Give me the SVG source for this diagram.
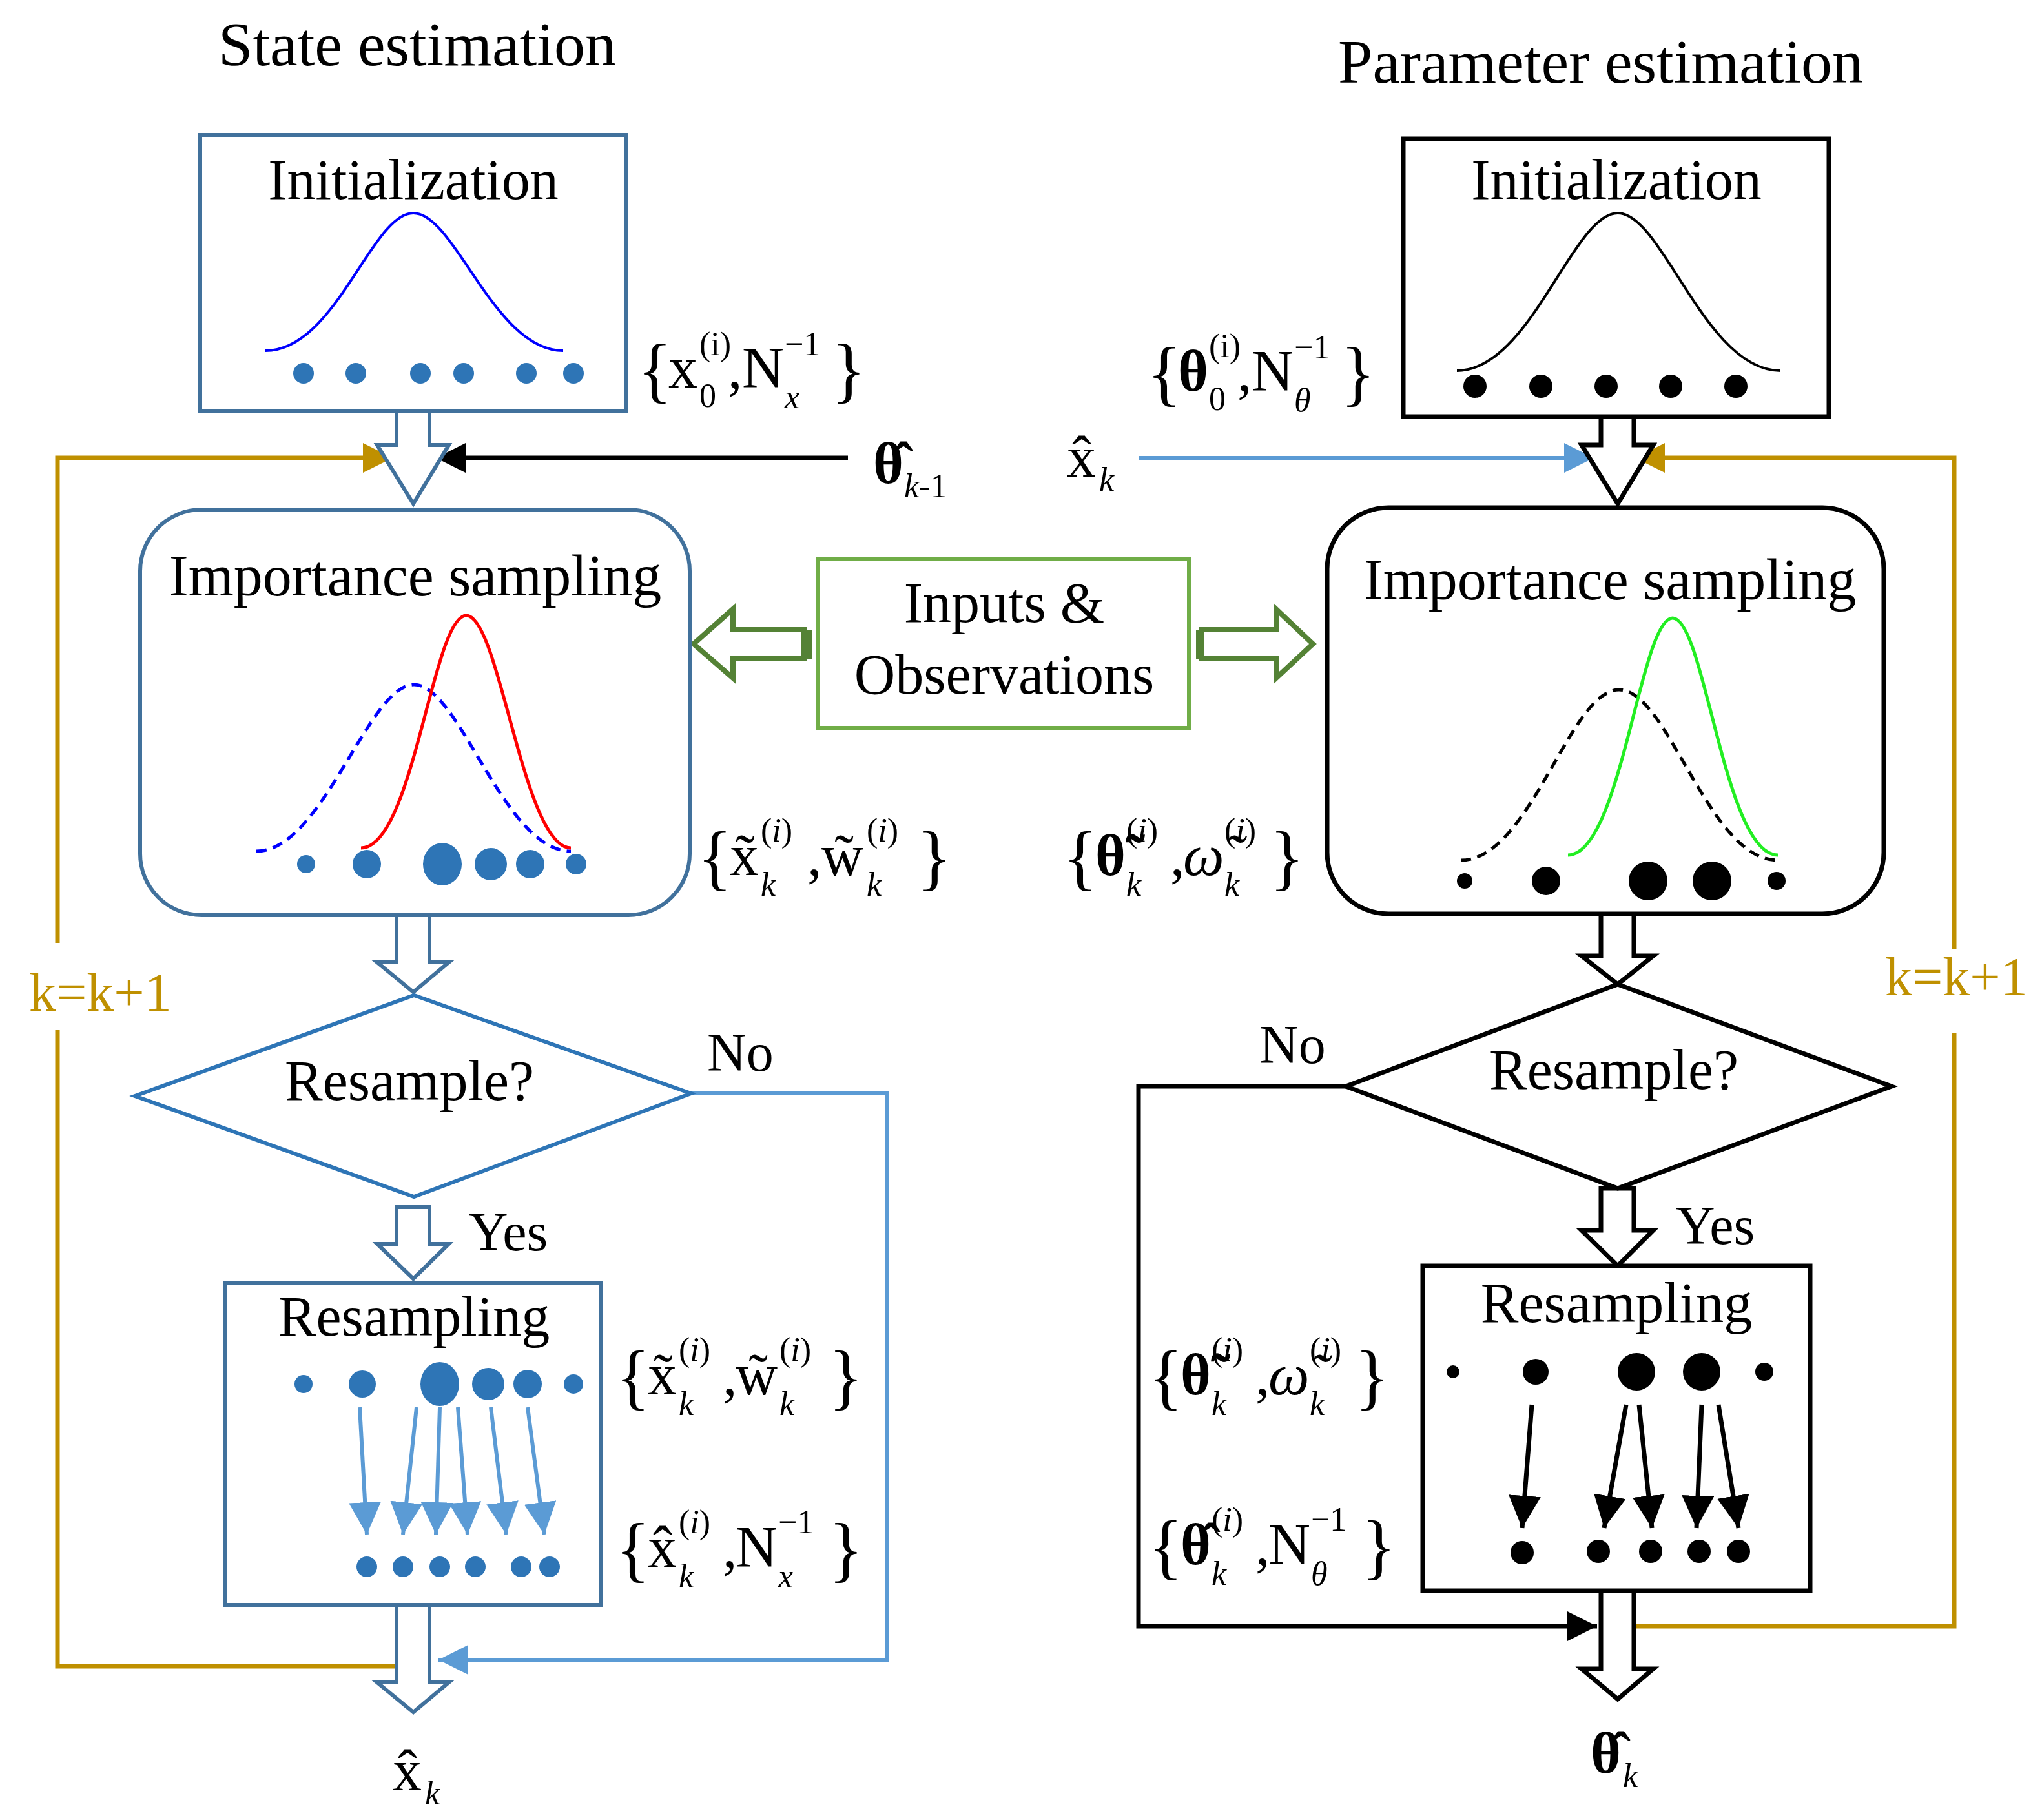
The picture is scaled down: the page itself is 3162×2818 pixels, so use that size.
<svg xmlns="http://www.w3.org/2000/svg" width="3162" height="2818" viewBox="0 0 3162 2818">
<style>
text{font-family:"Liberation Serif","Times New Roman",serif;fill:#000}
.t{font-size:96px}
.n{font-size:88px;text-anchor:middle}
.s{font-size:84px}
.br{font-size:112px}
.m{font-size:90px}
.sc{font-size:52px}
.it{font-style:italic}
.b{font-weight:bold}
.gold{fill:#BF9000}
.bx{fill:#fff;stroke:#41719C;stroke-width:6}
.kx{fill:#fff;stroke:#000;stroke-width:7}
.ha{fill:#fff;stroke:#41719C;stroke-width:6}
.hk{fill:#fff;stroke:#000;stroke-width:7}
.ga{fill:#fff;stroke:#548235;stroke-width:8}
.dl{fill:#2E75B6}
.dk{fill:#000}
</style>
<defs>
<marker id="mg" viewBox="0 0 10 10" refX="10" refY="5" markerWidth="46" markerHeight="46" markerUnits="userSpaceOnUse" orient="auto"><path d="M0,0L10,5L0,10z" fill="#BF9000"/></marker>
<marker id="mk" viewBox="0 0 10 10" refX="10" refY="5" markerWidth="46" markerHeight="46" markerUnits="userSpaceOnUse" orient="auto"><path d="M0,0L10,5L0,10z" fill="#000"/></marker>
<marker id="mb" viewBox="0 0 10 10" refX="10" refY="5" markerWidth="46" markerHeight="46" markerUnits="userSpaceOnUse" orient="auto"><path d="M0,0L10,5L0,10z" fill="#5B9BD5"/></marker>
<marker id="mb2" viewBox="0 0 10 10" refX="10" refY="5" markerWidth="50" markerHeight="50" markerUnits="userSpaceOnUse" orient="auto"><path d="M0,0L10,5L0,10z" fill="#5B9BD5"/></marker>
<marker id="mk2" viewBox="0 0 10 10" refX="10" refY="5" markerWidth="50" markerHeight="50" markerUnits="userSpaceOnUse" orient="auto"><path d="M0,0L10,5L0,10z" fill="#000"/></marker>
</defs>
<rect width="3162" height="2818" fill="#fff"/>

<text class="t" x="338" y="101">State estimation</text>
<text class="t" x="2072" y="128">Parameter estimation</text>

<!-- connectors -->
<g id="connectors" fill="none">
<polyline points="89,1460 89,709 608,709" stroke="#BF9000" stroke-width="7" marker-end="url(#mg)"/>
<polyline points="89,1595 89,2580 614,2580" stroke="#BF9000" stroke-width="7"/>
<line x1="1313" y1="709" x2="675" y2="709" stroke="#000" stroke-width="7" marker-end="url(#mk)"/>
<polyline points="1070,1693 1374,1693 1374,2570 679,2570" stroke="#5B9BD5" stroke-width="6" marker-end="url(#mb)"/>
<line x1="1763" y1="709" x2="2468" y2="709" stroke="#5B9BD5" stroke-width="6" marker-end="url(#mb)"/>
<polyline points="3026,1470 3026,709 2532,709" stroke="#BF9000" stroke-width="7" marker-end="url(#mg)"/>
<polyline points="3026,1600 3026,2518 2530,2518" stroke="#BF9000" stroke-width="7"/>
<polyline points="2084,1682 1763,1682 1763,2518 2473,2518" stroke="#000" stroke-width="7" marker-end="url(#mk)"/>
<!-- block arrows left -->
<polygon class="ha" points="614,636 665,636 665,689 695,689 640,780 584,689 614,689"/>
<polygon class="ha" points="614,1417 665,1417 665,1490 695,1490 640,1536 584,1490 614,1490"/>
<polygon class="ha" points="614,1869 665,1869 665,1926 695,1926 640,1980 584,1926 614,1926"/>
<polygon class="ha" points="614,2485 665,2485 665,2605 695,2605 640,2651 584,2605 614,2605"/>
<!-- block arrows right -->
<polygon class="hk" points="2479,645 2530,645 2530,689 2560,689 2505,780 2449,689 2479,689"/>
<polygon class="hk" points="2479,1415 2530,1415 2530,1480 2560,1480 2505,1524 2449,1480 2479,1480"/>
<polygon class="hk" points="2479,1840 2530,1840 2530,1905 2560,1905 2505,1960 2449,1905 2479,1905"/>
<polygon class="hk" points="2479,2463 2530,2463 2530,2584 2560,2584 2505,2631 2449,2584 2479,2584"/>
<!-- green arrows -->
<polygon class="ga" points="1245,975 1245,1020 1135,1020 1135,1050 1074,997 1135,943 1135,975"/>
<polygon class="ga" points="1861,975 1861,1020 1976,1020 1976,1050 2033,997 1976,943 1976,975"/>
<rect x="1245" y="975" width="12" height="45" fill="#548235"/>
<rect x="1852" y="975" width="12" height="45" fill="#548235"/>
</g>
<text class="s gold" x="45" y="1565">k=k+1</text>
<text class="s gold" x="2919" y="1541">k=k+1</text>

<!-- left init -->
<g id="init-state">
<rect class="bx" x="310" y="209" width="659" height="427"/>
<text class="n" x="640" y="308">Initialization</text>
<path d="M411,543 C520,543 575,330 640,330 S765,543 872,543" fill="none" stroke="#0000FF" stroke-width="4"/>
<circle class="dl" cx="470" cy="578" r="16"/><circle class="dl" cx="551" cy="578" r="16"/><circle class="dl" cx="651" cy="578" r="16"/><circle class="dl" cx="718" cy="578" r="16"/><circle class="dl" cx="815" cy="578" r="16"/><circle class="dl" cx="888" cy="578" r="16"/>
</g>
<g transform="translate(987,600)">
<text class="br" y="10">{</text><text class="m" x="48">x</text><text class="sc" x="96" y="-50">(i)</text><text class="sc" x="96" y="30">0</text><text class="m" x="140">,</text><text class="m" x="162">N</text><text class="sc" x="228" y="-50">−1</text><text class="sc it" x="228" y="32">x</text><text class="br" x="300" y="10">}</text>
</g>
<g transform="translate(1352,748)"><text class="m b">θ̂</text><text class="sc" x="48" y="22"><tspan class="it">k</tspan>-1</text></g>

<!-- left IS -->
<g id="is-state">
<rect class="bx" x="217" y="789" width="851" height="628" rx="95"/>
<text class="n" x="643" y="922" style="font-size:90px">Importance sampling</text>
<path d="M397,1318 C500,1318 570,1060 641,1060 S780,1318 884,1318" fill="none" stroke="#0000FF" stroke-width="5" stroke-dasharray="16,10"/>
<path d="M559,1313 C640,1313 670,953 722,953 S810,1313 884,1313" fill="none" stroke="#FF0000" stroke-width="5"/>
<circle class="dl" cx="474" cy="1338" r="14"/><circle class="dl" cx="568" cy="1338" r="22"/><ellipse class="dl" cx="685" cy="1338" rx="30" ry="33"/><circle class="dl" cx="760" cy="1338" r="25"/><circle class="dl" cx="821" cy="1338" r="22"/><circle class="dl" cx="892" cy="1338" r="16"/>
</g>
<g transform="translate(1080,1355)">
<text class="br" y="10">{</text><text class="m" x="50">x̃</text><text class="sc" x="98" y="-52">(<tspan class="it">i</tspan>)</text><text class="sc it" x="98" y="32">k</text><text class="m" x="170">,</text><text class="m" x="192">w̃</text><text class="sc" x="262" y="-52">(<tspan class="it">i</tspan>)</text><text class="sc it" x="262" y="32">k</text><text class="br" x="340" y="10">}</text>
</g>

<!-- inputs -->
<g id="inputs">
<rect x="1267" y="866" width="574" height="261" fill="#fff" stroke="#70AD47" stroke-width="6"/>
<text class="n" x="1555" y="963">Inputs &amp;</text>
<text class="n" x="1555" y="1074">Observations</text>
</g>

<!-- left resample -->
<g id="resample-q-state">
<polygon points="209,1697 641,1541 1070,1693 641,1853" fill="#fff" stroke="#2E75B6" stroke-width="6"/>
<text class="n" x="634" y="1703">Resample?</text>
</g>
<text class="s" x="1095" y="1658">No</text>
<text class="s" x="726" y="1936">Yes</text>
<g id="resampling-state">
<rect class="bx" x="349" y="1986" width="581" height="499"/>
<text class="n" x="641" y="2068">Resampling</text>
<circle class="dl" cx="470" cy="2143" r="14"/><circle class="dl" cx="561" cy="2143" r="21"/><ellipse class="dl" cx="681" cy="2143" rx="30" ry="34"/><circle class="dl" cx="756" cy="2143" r="25"/><circle class="dl" cx="817" cy="2143" r="22"/><circle class="dl" cx="888" cy="2143" r="15"/>
<g stroke="#5B9BD5" stroke-width="6" marker-end="url(#mb2)">
<line x1="557" y1="2179" x2="568" y2="2376"/><line x1="645" y1="2179" x2="624" y2="2376"/><line x1="681" y1="2179" x2="675" y2="2376"/><line x1="709" y1="2179" x2="724" y2="2376"/><line x1="760" y1="2179" x2="784" y2="2376"/><line x1="817" y1="2179" x2="843" y2="2376"/>
</g>
<circle class="dl" cx="568" cy="2426" r="16"/><circle class="dl" cx="624" cy="2426" r="16"/><circle class="dl" cx="681" cy="2426" r="16"/><circle class="dl" cx="736" cy="2426" r="16"/><circle class="dl" cx="807" cy="2426" r="16"/><circle class="dl" cx="851" cy="2426" r="16"/>
</g>
<g transform="translate(953,2159)">
<text class="br" y="10">{</text><text class="m" x="50">x̃</text><text class="sc" x="98" y="-52">(<tspan class="it">i</tspan>)</text><text class="sc it" x="98" y="32">k</text><text class="m" x="166">,</text><text class="m" x="186">w̃</text><text class="sc" x="254" y="-52">(<tspan class="it">i</tspan>)</text><text class="sc it" x="254" y="32">k</text><text class="br" x="330" y="10">}</text>
</g>
<g transform="translate(953,2426)">
<text class="br" y="10">{</text><text class="m" x="50">x̂</text><text class="sc" x="98" y="-52">(<tspan class="it">i</tspan>)</text><text class="sc it" x="98" y="32">k</text><text class="m" x="166">,</text><text class="m" x="186">N</text><text class="sc" x="252" y="-52">−1</text><text class="sc it" x="252" y="32">x</text><text class="br" x="330" y="10">}</text>
</g>
<g transform="translate(608,2772)"><text class="m">x̂</text><text class="sc it" x="50" y="22">k</text></g>

<!-- right init -->
<g id="init-param">
<rect class="kx" x="2173" y="215" width="659" height="430"/>
<text class="n" x="2503" y="308">Initialization</text>
<path d="M2256,574 C2370,574 2435,330 2505,330 S2640,574 2757,574" fill="none" stroke="#000" stroke-width="4"/>
<circle class="dk" cx="2284" cy="598" r="18"/><circle class="dk" cx="2386" cy="598" r="18"/><circle class="dk" cx="2487" cy="598" r="18"/><circle class="dk" cx="2587" cy="598" r="18"/><circle class="dk" cx="2688" cy="598" r="18"/>
</g>
<g transform="translate(1776,605)">
<text class="br" y="10">{</text><text class="m b" x="48">θ</text><text class="sc" x="96" y="-52">(i)</text><text class="sc" x="96" y="30">0</text><text class="m" x="140">,</text><text class="m" x="162">N</text><text class="sc" x="228" y="-50">−1</text><text class="sc it" x="228" y="32">θ</text><text class="br" x="300" y="10">}</text>
</g>
<g transform="translate(1652,738)"><text class="m">x̂</text><text class="sc it" x="50" y="22">k</text></g>

<!-- right IS -->
<g id="is-param">
<rect class="kx" x="2055" y="786" width="862" height="629" rx="95"/>
<text class="n" x="2493" y="928" style="font-size:90px">Importance sampling</text>
<path d="M2262,1332 C2370,1332 2430,1068 2507,1068 S2645,1332 2753,1332" fill="none" stroke="#000" stroke-width="5" stroke-dasharray="16,10"/>
<path d="M2428,1324 C2510,1324 2540,957 2590,957 S2670,1324 2753,1324" fill="none" stroke="#22EE22" stroke-width="5"/>
<circle class="dk" cx="2268" cy="1364" r="12"/><circle class="dk" cx="2394" cy="1364" r="22"/><circle class="dk" cx="2552" cy="1364" r="30"/><circle class="dk" cx="2651" cy="1364" r="30"/><circle class="dk" cx="2751" cy="1364" r="14"/>
</g>
<g transform="translate(1646,1355)">
<text class="br" y="10">{</text><text class="m b" x="50">θ̃</text><text class="sc" x="98" y="-52">(<tspan class="it">i</tspan>)</text><text class="sc it" x="98" y="32">k</text><text class="m" x="166">,</text><text class="m it" x="186">ω̃</text><text class="sc" x="250" y="-52">(<tspan class="it">i</tspan>)</text><text class="sc it" x="250" y="32">k</text><text class="br" x="320" y="10">}</text>
</g>

<!-- right resample -->
<g id="resample-q-param">
<polygon points="2084,1682 2505,1524 2929,1682 2505,1840" fill="#fff" stroke="#000" stroke-width="7"/>
<text class="n" x="2499" y="1686">Resample?</text>
</g>
<text class="s" x="1950" y="1646">No</text>
<text class="s" x="2595" y="1926">Yes</text>
<g id="resampling-param">
<rect class="kx" x="2203" y="1960" width="600" height="503"/>
<text class="n" x="2503" y="2047">Resampling</text>
<circle class="dk" cx="2250" cy="2124" r="10"/><circle class="dk" cx="2378" cy="2124" r="20"/><circle class="dk" cx="2534" cy="2124" r="29"/><circle class="dk" cx="2635" cy="2124" r="29"/><circle class="dk" cx="2732" cy="2124" r="14"/>
<g stroke="#000" stroke-width="7" marker-end="url(#mk2)">
<line x1="2372" y1="2175" x2="2357" y2="2366"/><line x1="2518" y1="2175" x2="2484" y2="2366"/><line x1="2538" y1="2175" x2="2558" y2="2366"/><line x1="2635" y1="2175" x2="2627" y2="2366"/><line x1="2661" y1="2175" x2="2692" y2="2366"/>
</g>
<circle class="dk" cx="2357" cy="2404" r="18"/><circle class="dk" cx="2475" cy="2402" r="18"/><circle class="dk" cx="2556" cy="2402" r="18"/><circle class="dk" cx="2631" cy="2402" r="18"/><circle class="dk" cx="2692" cy="2402" r="18"/>
</g>
<g transform="translate(1778,2159)">
<text class="br" y="10">{</text><text class="m b" x="50">θ̃</text><text class="sc" x="98" y="-52">(<tspan class="it">i</tspan>)</text><text class="sc it" x="98" y="32">k</text><text class="m" x="166">,</text><text class="m it" x="186">ω̃</text><text class="sc" x="250" y="-52">(<tspan class="it">i</tspan>)</text><text class="sc it" x="250" y="32">k</text><text class="br" x="320" y="10">}</text>
</g>
<g transform="translate(1778,2422)">
<text class="br" y="10">{</text><text class="m b" x="50">θ̂</text><text class="sc" x="98" y="-52">(<tspan class="it">i</tspan>)</text><text class="sc it" x="98" y="32">k</text><text class="m" x="166">,</text><text class="m" x="186">N</text><text class="sc" x="252" y="-52">−1</text><text class="sc it" x="252" y="32">θ</text><text class="br" x="330" y="10">}</text>
</g>
<g transform="translate(2463,2745)"><text class="m b">θ̂</text><text class="sc it" x="50" y="22">k</text></g>
</svg>
